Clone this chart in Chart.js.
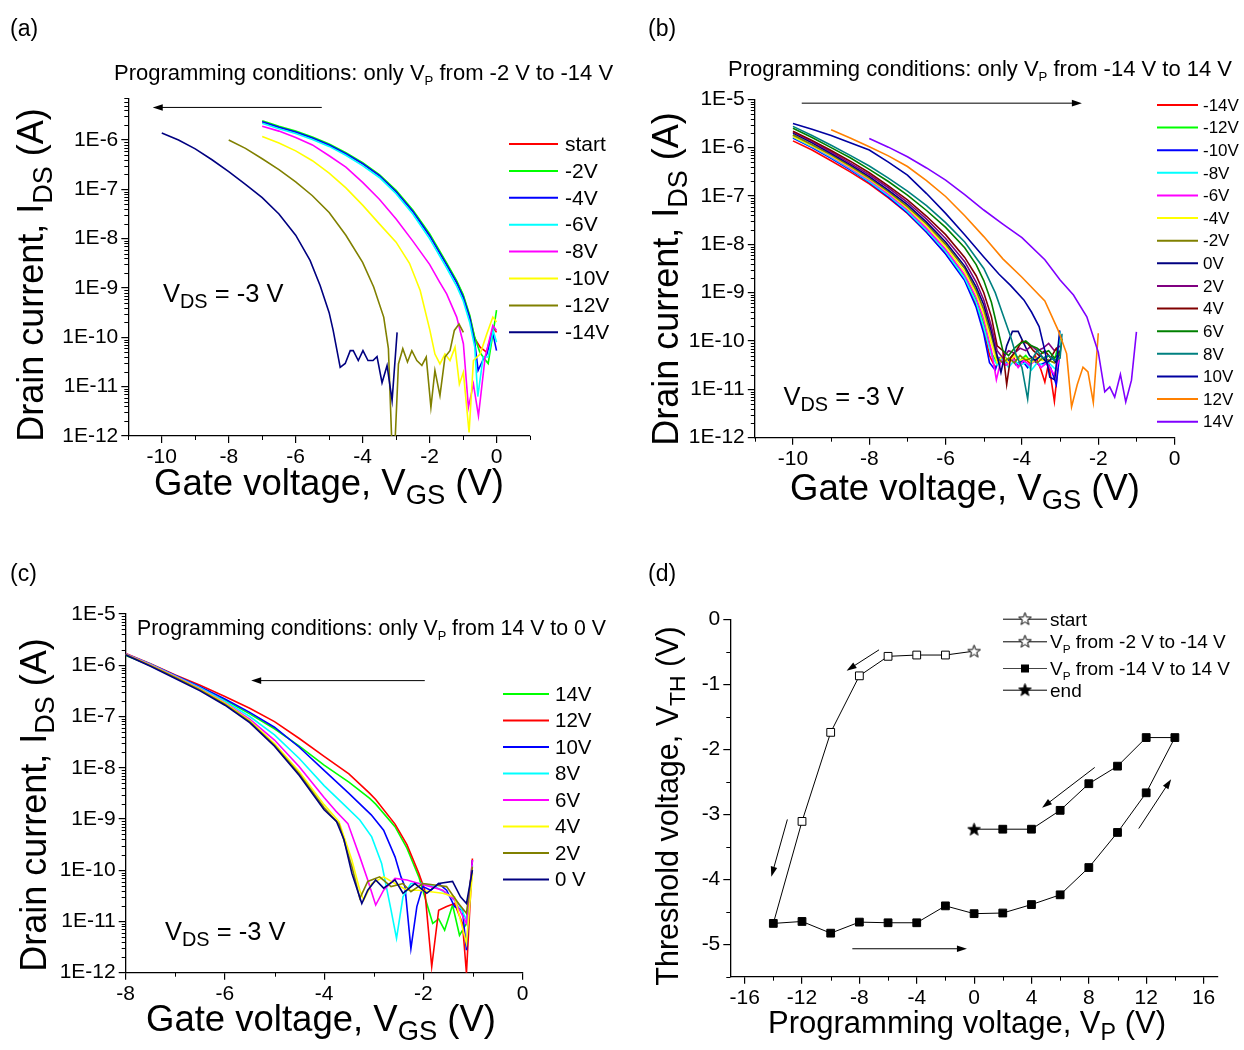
<!DOCTYPE html>
<html>
<head>
<meta charset="utf-8">
<script src="https://cdn.jsdelivr.net/npm/chart.js@4.4.0/dist/chart.umd.min.js"></script>
<style>
  html, body { margin: 0; padding: 0; background: #fff; }
  #wrap { position: relative; width: 1244px; height: 1050px; overflow: hidden; }
  canvas { position: absolute; left: 0; top: 0; }
</style>
</head>
<body>
<div id="wrap">
  <canvas id="ca" width="1244" height="1050"></canvas>
  <canvas id="cb" width="1244" height="1050"></canvas>
  <canvas id="cc" width="1244" height="1050"></canvas>
  <canvas id="cd" width="1244" height="1050"></canvas>
</div>
<script>
const FONT = '"Liberation Sans", Arial, Helvetica, sans-serif';

// curves are [V_GS, log10(I_DS)] pairs

// (a) only V_P from -2 V to -14 V
const aLabels = ['start', '-2V', '-4V', '-6V', '-8V', '-10V', '-12V', '-14V'];
const aColors = ['#ff0000', '#00ff00', '#0000ff', '#00ffff', '#ff00ff', '#ffff00', '#808000', '#000080'];
const aStart = [[-7,-5.63],[-6.5,-5.74],[-6,-5.84],[-5.5,-5.96],[-5,-6.1],[-4.5,-6.28],[-4,-6.48],[-3.5,-6.72],[-3,-7.04],[-2.5,-7.44],[-2,-7.93],[-1.5,-8.5],[-1.2,-8.86],[-1,-9.15],[-0.8,-9.58],[-0.65,-10.02],[-0.49,-10.2],[-0.3,-10.3],[-0.1,-9.8],[0,-9.9]];
const aM2 = [[-7,-5.61],[-6.5,-5.72],[-6,-5.82],[-5.5,-5.94],[-5,-6.08],[-4.5,-6.26],[-4,-6.46],[-3.5,-6.7],[-3,-7.02],[-2.5,-7.42],[-2,-7.9],[-1.5,-8.48],[-1.2,-8.84],[-1,-9.13],[-0.8,-9.55],[-0.65,-10.0],[-0.5,-10.3],[-0.38,-10.42],[-0.25,-10.53],[-0.1,-9.9],[0,-9.45]];
const aM4 = [[-7,-5.63],[-6.5,-5.74],[-6,-5.84],[-5.5,-5.96],[-5,-6.1],[-4.5,-6.28],[-4,-6.48],[-3.5,-6.72],[-3,-7.05],[-2.5,-7.45],[-2,-7.94],[-1.5,-8.52],[-1.2,-8.88],[-1,-9.18],[-0.8,-9.6],[-0.65,-10.1],[-0.55,-10.67],[-0.4,-10.45],[-0.29,-10.34],[-0.11,-9.92],[0,-10.27]];
const aM6 = [[-7,-5.66],[-6.5,-5.77],[-6,-5.87],[-5.5,-5.99],[-5,-6.13],[-4.5,-6.31],[-4,-6.52],[-3.5,-6.76],[-3,-7.09],[-2.5,-7.5],[-2,-8.0],[-1.5,-8.58],[-1.2,-8.95],[-1,-9.25],[-0.8,-9.7],[-0.65,-10.2],[-0.56,-11.2],[-0.4,-10.4],[-0.25,-10.4],[-0.1,-9.86],[0,-10.1]];
const aM8 = [[-7,-5.72],[-6.5,-5.82],[-6,-5.95],[-5.5,-6.1],[-5,-6.32],[-4.5,-6.55],[-4,-6.86],[-3.5,-7.2],[-3,-7.6],[-2.5,-8.05],[-2,-8.52],[-1.7,-8.88],[-1.49,-9.12],[-1.19,-9.59],[-0.99,-10.13],[-0.84,-11.42],[-0.69,-10.95],[-0.54,-11.59],[-0.34,-10.4],[-0.11,-9.76],[0,-9.86]];
const aM10 = [[-7,-5.93],[-6.5,-6.06],[-6,-6.22],[-5.5,-6.42],[-5,-6.67],[-4.5,-6.97],[-4,-7.32],[-3.5,-7.7],[-3,-8.07],[-2.6,-8.5],[-2.28,-9.05],[-1.99,-9.86],[-1.84,-10.34],[-1.69,-10.54],[-1.54,-10.34],[-1.39,-10.47],[-1.24,-10.2],[-1.11,-10.95],[-0.99,-10.71],[-0.82,-11.93],[-0.69,-10.47],[-0.49,-10.34],[-0.29,-9.93],[-0.11,-9.59],[0,-9.69]];
const aM12 = [[-8,-6.0],[-7.5,-6.17],[-7,-6.38],[-6.5,-6.6],[-6,-6.85],[-5.5,-7.13],[-5,-7.47],[-4.5,-7.93],[-4,-8.48],[-3.67,-8.98],[-3.37,-9.59],[-3.23,-10.23],[-3.13,-12.1],[-3.03,-12.1],[-2.93,-10.54],[-2.8,-10.23],[-2.66,-10.5],[-2.53,-10.27],[-2.38,-10.47],[-2.23,-10.57],[-2.1,-10.4],[-1.96,-11.42],[-1.84,-10.67],[-1.69,-11.18],[-1.54,-10.4],[-1.39,-10.27],[-1.26,-9.86],[-1.12,-9.73],[-0.99,-9.9]];
const aM14 = [[-10,-5.86],[-9.5,-6.0],[-9,-6.18],[-8.5,-6.4],[-8,-6.64],[-7.5,-6.9],[-7,-7.17],[-6.5,-7.5],[-6,-7.93],[-5.57,-8.44],[-5.27,-8.95],[-5,-9.5],[-4.88,-9.86],[-4.67,-10.61],[-4.52,-10.53],[-4.37,-10.27],[-4.28,-10.27],[-4.13,-10.47],[-3.99,-10.27],[-3.84,-10.47],[-3.69,-10.47],[-3.57,-10.39],[-3.42,-10.92],[-3.27,-10.57],[-3.12,-11.28],[-2.97,-9.9]];
const aCurves = [aStart, aM2, aM4, aM6, aM8, aM10, aM12, aM14];

// (b) only V_P from -14 V to 14 V
const bLabels = ['-14V', '-12V', '-10V', '-8V', '-6V', '-4V', '-2V', '0V', '2V', '4V', '6V', '8V', '10V', '12V', '14V'];
const bColors = ['#ff0000', '#00ff00', '#0000ff', '#00ffff', '#ff00ff', '#ffff00', '#808000', '#000080', '#800080', '#800000', '#008000', '#008080', '#0000a0', '#ff8000', '#8000ff'];
const bM14 = [[-10,-5.86],[-9.5,-6.05],[-9,-6.27],[-8.5,-6.5],[-8,-6.75],[-7.5,-7.04],[-7,-7.36],[-6.5,-7.75],[-6,-8.19],[-5.5,-8.72],[-5.2,-9.25],[-5,-9.75],[-4.85,-10.3],[-4.7,-10.55],[-4.55,-10.35],[-4.4,-10.45],[-4.25,-10.3],[-4.1,-10.5],[-3.95,-10.35],[-3.8,-10.45],[-3.65,-10.3],[-3.5,-10.6],[-3.4,-10.85],[-3.3,-10.45],[-3.15,-11.25],[-3.05,-10.5]];
const bM12 = [[-10,-5.74],[-9.5,-5.95],[-9,-6.18],[-8.5,-6.42],[-8,-6.68],[-7.5,-6.97],[-7,-7.3],[-6.5,-7.68],[-6,-8.12],[-5.5,-8.65],[-5.2,-9.15],[-5,-9.65],[-4.8,-10.25],[-4.65,-10.45],[-4.5,-10.3],[-4.35,-10.4],[-4.2,-10.25],[-4.05,-10.4],[-3.9,-10.3],[-3.75,-10.45],[-3.6,-10.35],[-3.45,-10.4],[-3.3,-10.3],[-3.15,-10.4],[-3.0,-9.95]];
const bM10 = [[-10,-5.80],[-9.5,-6.0],[-9,-6.22],[-8.5,-6.46],[-8,-6.72],[-7.5,-7.02],[-7,-7.35],[-6.5,-7.75],[-6,-8.2],[-5.5,-8.75],[-5.2,-9.3],[-5,-9.85],[-4.85,-10.45],[-4.7,-10.6],[-4.6,-10.35],[-4.45,-10.5],[-4.3,-10.35],[-4.15,-10.5],[-4,-10.4],[-3.85,-10.55],[-3.7,-10.4],[-3.55,-10.5],[-3.4,-10.45],[-3.25,-10.55],[-3.1,-10.9],[-3.0,-10.2]];
const bM8 = [[-10,-5.78],[-9.5,-5.98],[-9,-6.2],[-8.5,-6.44],[-8,-6.7],[-7.5,-6.99],[-7,-7.32],[-6.5,-7.71],[-6,-8.15],[-5.5,-8.7],[-5.2,-9.2],[-5,-9.72],[-4.8,-10.3],[-4.65,-10.5],[-4.5,-10.35],[-4.35,-10.55],[-4.2,-10.4],[-4.05,-10.5],[-3.9,-10.45],[-3.75,-10.6],[-3.6,-10.45],[-3.45,-10.5],[-3.3,-10.45],[-3.1,-10.6],[-3.0,-9.8]];
const bM6 = [[-10,-5.76],[-9.5,-5.96],[-9,-6.18],[-8.5,-6.42],[-8,-6.67],[-7.5,-6.96],[-7,-7.28],[-6.5,-7.67],[-6,-8.1],[-5.5,-8.63],[-5.2,-9.1],[-5,-9.55],[-4.8,-10.2],[-4.67,-10.8],[-4.55,-10.4],[-4.4,-10.5],[-4.25,-10.35],[-4.1,-10.55],[-3.95,-10.4],[-3.8,-10.5],[-3.65,-10.4],[-3.5,-10.55],[-3.35,-10.45],[-3.15,-10.7],[-3.0,-10.3]];
const bM4 = [[-10,-5.77],[-9.5,-5.96],[-9,-6.17],[-8.5,-6.4],[-8,-6.65],[-7.5,-6.93],[-7,-7.25],[-6.5,-7.62],[-6,-8.05],[-5.5,-8.57],[-5.2,-9.02],[-5,-9.45],[-4.8,-10.05],[-4.65,-10.45],[-4.5,-10.3],[-4.35,-10.45],[-4.2,-10.3],[-4.05,-10.4],[-3.9,-10.35],[-3.75,-10.45],[-3.6,-10.35],[-3.45,-10.4],[-3.3,-10.4],[-3.15,-10.45],[-3.0,-10.3]];
const bM2 = [[-10,-5.74],[-9.5,-5.94],[-9,-6.15],[-8.5,-6.38],[-8,-6.63],[-7.5,-6.91],[-7,-7.22],[-6.5,-7.58],[-6,-8.0],[-5.5,-8.5],[-5.2,-8.95],[-5,-9.35],[-4.8,-9.9],[-4.65,-10.35],[-4.5,-10.45],[-4.35,-10.35],[-4.2,-10.45],[-4.05,-10.3],[-3.9,-10.4],[-3.75,-10.35],[-3.6,-10.45],[-3.45,-10.35],[-3.3,-10.4],[-3.15,-10.45],[-3.0,-10.35]];
const b0 = [[-10,-5.70],[-9.5,-5.9],[-9,-6.12],[-8.5,-6.35],[-8,-6.6],[-7.5,-6.88],[-7,-7.18],[-6.5,-7.54],[-6,-7.95],[-5.5,-8.45],[-5.2,-8.88],[-5,-9.25],[-4.8,-9.8],[-4.65,-10.3],[-4.55,-10.65],[-4.4,-10.1],[-4.25,-9.8],[-4.1,-9.8],[-3.95,-10.05],[-3.8,-10.3],[-3.65,-10.4],[-3.5,-10.3],[-3.35,-10.45],[-3.2,-10.35],[-3.1,-10.45],[-3.0,-10.2]];
const b2 = [[-10,-5.67],[-9.5,-5.87],[-9,-6.09],[-8.5,-6.32],[-8,-6.56],[-7.5,-6.83],[-7,-7.13],[-6.5,-7.48],[-6,-7.88],[-5.5,-8.36],[-5.2,-8.78],[-5,-9.15],[-4.8,-9.7],[-4.65,-10.2],[-4.5,-10.35],[-4.35,-10.2],[-4.2,-10.25],[-4.05,-10.15],[-3.9,-10.2],[-3.75,-10.1],[-3.6,-10.2],[-3.45,-10.15],[-3.3,-10.05],[-3.15,-10.2],[-3.0,-10.1]];
const b4 = [[-10,-5.66],[-9.5,-5.85],[-9,-6.06],[-8.5,-6.28],[-8,-6.52],[-7.5,-6.79],[-7,-7.08],[-6.5,-7.42],[-6,-7.8],[-5.5,-8.27],[-5.2,-8.65],[-5,-9.0],[-4.8,-9.5],[-4.65,-10.1],[-4.5,-10.2],[-4.4,-10.9],[-4.3,-10.35],[-4.15,-10.2],[-4,-10.0],[-3.85,-10.05],[-3.7,-10.2],[-3.55,-10.3],[-3.4,-10.2],[-3.25,-10.35],[-3.1,-10.15],[-3.0,-10.3]];
const b6 = [[-10,-5.60],[-9.5,-5.79],[-9,-6.0],[-8.5,-6.21],[-8,-6.45],[-7.5,-6.7],[-7,-6.98],[-6.5,-7.3],[-6,-7.65],[-5.5,-8.07],[-5.2,-8.42],[-5,-8.75],[-4.8,-9.2],[-4.65,-9.7],[-4.5,-10.2],[-4.35,-10.3],[-4.2,-10.15],[-4.05,-10.05],[-3.9,-10.0],[-3.75,-10.1],[-3.6,-10.15],[-3.45,-10.25],[-3.3,-10.2],[-3.15,-10.35],[-3.0,-10.25],[-2.95,-9.95]];
const b8 = [[-10,-5.56],[-9.5,-5.75],[-9,-5.95],[-8.5,-6.16],[-8,-6.38],[-7.5,-6.63],[-7,-6.9],[-6.5,-7.2],[-6,-7.55],[-5.5,-7.95],[-5,-8.5],[-4.7,-9.0],[-4.5,-9.45],[-4.3,-9.9],[-4.15,-10.3],[-4.0,-10.55],[-3.85,-11.2],[-3.75,-10.4],[-3.6,-10.2],[-3.45,-10.35],[-3.3,-10.3],[-3.15,-10.4],[-3.0,-10.35],[-2.95,-9.85]];
const b10 = [[-10,-5.50],[-9.5,-5.62],[-9,-5.75],[-8.5,-5.9],[-8,-6.05],[-7.5,-6.3],[-7,-6.57],[-6.5,-6.95],[-6,-7.36],[-5.5,-7.8],[-5,-8.26],[-4.6,-8.62],[-4.3,-8.85],[-3.95,-9.15],[-3.75,-9.4],[-3.55,-9.7],[-3.4,-10.2],[-3.27,-10.75],[-3.14,-10.8],[-3.01,-9.78]];
const b12 = [[-9,-5.63],[-8.5,-5.8],[-8,-5.98],[-7.5,-6.17],[-7,-6.39],[-6.5,-6.68],[-6,-7.01],[-5.5,-7.41],[-5,-7.84],[-4.5,-8.3],[-4,-8.68],[-3.4,-9.17],[-3.05,-9.78],[-2.83,-10.26],[-2.7,-11.36],[-2.55,-10.9],[-2.4,-10.54],[-2.27,-10.64],[-2.13,-11.27],[-2.0,-9.84]];
const b14 = [[-8,-5.81],[-7.5,-5.99],[-7,-6.19],[-6.5,-6.42],[-6,-6.67],[-5.5,-6.97],[-5,-7.29],[-4.5,-7.58],[-4,-7.86],[-3.4,-8.32],[-3,-8.74],[-2.65,-9.05],[-2.3,-9.5],[-2.0,-10.23],[-1.83,-11.05],[-1.7,-10.95],[-1.57,-11.16],[-1.42,-10.69],[-1.28,-11.26],[-1.13,-10.81],[-1.0,-9.81]];
const bCurves = [bM14, bM12, bM10, bM8, bM6, bM4, bM2, b0, b2, b4, b6, b8, b10, b12, b14];

// (c) only V_P from 14 V to 0 V
const cLabels = ['14V', '12V', '10V', '8V', '6V', '4V', '2V', '0 V'];
const cColors = ['#00ff00', '#ff0000', '#0000ff', '#00ffff', '#ff00ff', '#ffff00', '#808000', '#000080'];
const c14 = [[-8,-5.81],[-7.5,-6.0],[-7,-6.21],[-6.5,-6.43],[-6,-6.68],[-5.5,-6.95],[-5,-7.24],[-4.5,-7.58],[-4,-7.95],[-3.5,-8.28],[-3.08,-8.6],[-2.96,-8.71],[-2.57,-9.15],[-2.33,-9.57],[-2.09,-10.13],[-1.93,-10.65],[-1.81,-11.04],[-1.69,-10.95],[-1.57,-11.17],[-1.41,-10.68],[-1.27,-11.27],[-1.13,-11.04],[-1.01,-9.83]];
const c12 = [[-8,-5.77],[-7.5,-5.97],[-7,-6.19],[-6.5,-6.39],[-6,-6.61],[-5.5,-6.84],[-5,-7.1],[-4.5,-7.43],[-4,-7.78],[-3.5,-8.12],[-3.08,-8.5],[-2.96,-8.62],[-2.57,-9.1],[-2.33,-9.5],[-2.09,-10.06],[-1.97,-10.39],[-1.83,-11.88],[-1.69,-10.78],[-1.53,-10.71],[-1.37,-10.65],[-1.21,-11.04],[-1.13,-12.01],[-1.01,-9.77]];
const c10 = [[-8,-5.78],[-7.5,-5.98],[-7,-6.2],[-6.5,-6.42],[-6,-6.66],[-5.5,-6.92],[-5,-7.21],[-4.5,-7.6],[-4,-8.05],[-3.5,-8.5],[-3.05,-8.92],[-2.8,-9.22],[-2.57,-9.74],[-2.45,-10.13],[-2.37,-10.32],[-2.25,-11.53],[-2.13,-10.71],[-2.01,-10.32],[-1.85,-10.39],[-1.69,-10.26],[-1.53,-10.39],[-1.37,-10.71],[-1.21,-10.78],[-1.13,-11.56],[-1.01,-9.8]];
const c8 = [[-8,-5.78],[-7.5,-5.98],[-7,-6.21],[-6.5,-6.44],[-6,-6.7],[-5.5,-7.0],[-5,-7.36],[-4.5,-7.82],[-4,-8.35],[-3.6,-8.72],[-3.28,-9.02],[-3.04,-9.35],[-2.84,-9.87],[-2.65,-10.78],[-2.54,-11.33],[-2.41,-10.52],[-2.25,-10.26],[-2.01,-10.26],[-1.77,-10.32],[-1.53,-10.45],[-1.29,-10.65],[-1.13,-10.97],[-1.01,-9.9]];
const c6 = [[-8,-5.78],[-7.5,-5.99],[-7,-6.22],[-6.5,-6.46],[-6,-6.73],[-5.5,-7.05],[-5,-7.46],[-4.5,-7.98],[-4,-8.58],[-3.76,-8.85],[-3.52,-9.09],[-3.28,-9.74],[-3.12,-10.19],[-2.96,-10.68],[-2.8,-10.39],[-2.57,-10.16],[-2.33,-10.19],[-2.09,-10.26],[-1.85,-10.32],[-1.61,-10.39],[-1.37,-10.58],[-1.13,-11.04],[-1.01,-9.8]];
const c4 = [[-8,-5.79],[-7.5,-6.0],[-7,-6.23],[-6.5,-6.47],[-6,-6.74],[-5.5,-7.08],[-5,-7.53],[-4.5,-8.08],[-4,-8.72],[-3.7,-9.05],[-3.44,-9.8],[-3.28,-10.39],[-3.2,-10.58],[-3.04,-10.26],[-2.8,-10.13],[-2.57,-10.26],[-2.33,-10.39],[-2.09,-10.39],[-1.85,-10.42],[-1.61,-10.45],[-1.37,-10.52],[-1.13,-11.43],[-1.01,-10.06]];
const c2 = [[-8,-5.79],[-7.5,-6.01],[-7,-6.24],[-6.5,-6.48],[-6,-6.76],[-5.5,-7.1],[-5,-7.56],[-4.5,-8.12],[-4,-8.78],[-3.7,-9.1],[-3.44,-9.93],[-3.28,-10.55],[-3.12,-10.22],[-2.88,-10.13],[-2.65,-10.32],[-2.41,-10.26],[-2.25,-10.42],[-2.01,-10.26],[-1.77,-10.29],[-1.53,-10.32],[-1.29,-10.65],[-1.13,-10.84],[-1.01,-9.93]];
const c0 = [[-8,-5.8],[-7.5,-6.02],[-7,-6.26],[-6.5,-6.5],[-6,-6.78],[-5.5,-7.12],[-5,-7.58],[-4.5,-8.15],[-4,-8.82],[-3.75,-9.05],[-3.6,-9.4],[-3.44,-10.06],[-3.24,-10.65],[-3.12,-10.39],[-2.96,-10.19],[-2.8,-10.35],[-2.57,-10.19],[-2.41,-10.45],[-2.17,-10.26],[-1.93,-10.45],[-1.69,-10.26],[-1.41,-10.22],[-1.25,-10.52],[-1.13,-10.65],[-1.01,-10.0]];
const cCurves = [c14, c12, c10, c8, c6, c4, c2, c0];

// (d) threshold voltage vs programming voltage
const vpStart = [0], vthStart = [-0.49];
const vpNeg = [0, -2, -4, -6, -8, -10, -12, -14];
const vthNeg = [-0.49, -0.55, -0.55, -0.57, -0.87, -1.74, -3.11, -4.68];
const vpLoop = [-14, -12, -10, -8, -6, -4, -2, 0, 2, 4, 6, 8, 10, 12, 14, 12, 10, 8, 6, 4, 2, 0];
const vthLoop = [-4.68, -4.65, -4.83, -4.66, -4.67, -4.67, -4.41, -4.53, -4.52, -4.39, -4.24, -3.82, -3.28, -2.67, -1.82, -1.82, -2.26, -2.53, -2.94, -3.23, -3.23, -3.23];
const vpEnd = [0], vthEnd = [-3.23];

// ticks
const decades5 = [1e-12, 1e-11, 1e-10, 1e-9, 1e-8, 1e-7, 1e-6, 1e-5];
const decades6 = [1e-12, 1e-11, 1e-10, 1e-9, 1e-8, 1e-7, 1e-6];
const aXTicks = [-10, -8, -6, -4, -2, 0], aXMinor = [-11, -9, -7, -5, -3, -1, 1];
const bXTicks = [-10, -8, -6, -4, -2, 0], bXMinor = [-11, -9, -7, -5, -3, -1];
const cXTicks = [-8, -6, -4, -2, 0], cXMinor = [-7, -5, -3, -1];
const dXTicks = [-16, -12, -8, -4, 0, 4, 8, 12, 16], dXMinor = [-14, -10, -6, -2, 2, 6, 10, 14];
const dYTicks = [-5, -4, -3, -2, -1, 0], dYMinor = [-5.5, -4.5, -3.5, -2.5, -1.5, -0.5];

function logMinor(decades, max) {
  const out = [];
  decades.forEach(d => { for (let k = 2; k <= 9; k++) if (k * d <= max) out.push(k * d); });
  return out;
}

function drawRich(ctx, parts, x, y, size, align, rot, subRatio) {
  const sr = subRatio || 0.72;
  ctx.save();
  const seg = parts.map(p => {
    const sub = Array.isArray(p);
    const t = sub ? p[0] : p;
    const fs = sub ? size * sr : size;
    ctx.font = fs + 'px ' + FONT;
    return { t, sub, fs, w: ctx.measureText(t).width };
  });
  const total = seg.reduce((s, g) => s + g.w, 0);
  ctx.translate(x, y);
  if (rot) ctx.rotate(-Math.PI / 2);
  let cx = align === 'center' ? -total / 2 : 0;
  ctx.fillStyle = '#000';
  ctx.textAlign = 'left';
  ctx.textBaseline = 'alphabetic';
  seg.forEach(g => {
    ctx.font = g.fs + 'px ' + FONT;
    ctx.fillText(g.t, cx, g.sub ? size * 0.24 : 0);
    cx += g.w;
  });
  ctx.restore();
}

function arrow(ctx, x1, y1, x2, y2) {
  const a = Math.atan2(y2 - y1, x2 - x1), L = 10, W = 3.3;
  const c = Math.cos(a), s = Math.sin(a);
  ctx.save();
  ctx.strokeStyle = '#000';
  ctx.fillStyle = '#000';
  ctx.lineWidth = 1;
  ctx.beginPath();
  ctx.moveTo(x1, y1);
  ctx.lineTo(x2 - L * 0.7 * c, y2 - L * 0.7 * s);
  ctx.stroke();
  ctx.beginPath();
  ctx.moveTo(x2, y2);
  ctx.lineTo(x2 - L * c + W * s, y2 - L * s - W * c);
  ctx.lineTo(x2 - L * c - W * s, y2 - L * s + W * c);
  ctx.closePath();
  ctx.fill();
  ctx.restore();
}

// arrow in data units, y given as log10 for the log panels
function dataArrow(chart, p, log) {
  const xs = chart.scales.x, ys = chart.scales.y;
  const yv = v => log ? Math.pow(10, v) : v;
  arrow(chart.ctx, xs.getPixelForValue(p[0]), ys.getPixelForValue(yv(p[1])),
        xs.getPixelForValue(p[2]), ys.getPixelForValue(yv(p[3])));
}

function legend(ctx, labels, colors, x1, x2, tx, y0, dy, size) {
  ctx.save();
  ctx.font = size + 'px ' + FONT;
  ctx.textBaseline = 'middle';
  ctx.fillStyle = '#000';
  labels.forEach((l, i) => {
    const y = y0 + dy * i;
    ctx.strokeStyle = colors[i];
    ctx.lineWidth = 2;
    ctx.beginPath();
    ctx.moveTo(x1, y);
    ctx.lineTo(x2, y);
    ctx.stroke();
    ctx.fillText(l, tx, y + 1);
  });
  ctx.restore();
}

function panelLabel(ctx, t, x, y) {
  ctx.save();
  ctx.font = '23px ' + FONT;
  ctx.fillStyle = '#000';
  ctx.fillText(t, x, y);
  ctx.restore();
}

function minorTicks(chart, o) {
  const ctx = chart.ctx, xs = chart.scales.x, ys = chart.scales.y;
  const ca = chart.chartArea;
  ctx.save();
  ctx.strokeStyle = '#000';
  ctx.lineWidth = 1;
  ctx.beginPath();
  o.xMinor.forEach(v => {
    const px = Math.round(xs.getPixelForValue(v)) + 0.5;
    ctx.moveTo(px, ca.bottom);
    ctx.lineTo(px, ca.bottom + 4);
  });
  o.yMinor.forEach(v => {
    const py = Math.round(ys.getPixelForValue(v)) + 0.5;
    ctx.moveTo(ca.left, py);
    ctx.lineTo(ca.left - 4, py);
  });
  ctx.stroke();
  ctx.restore();
}

function buildChart(id, o) {
  const W = 1244, H = 1050, YW = 70, XH = 40;
  const L = o.area[0], T = o.area[1], R = o.area[2], B = o.area[3];
  const tickFont = { family: FONT, size: 21 };
  const grid = { drawOnChartArea: false, color: '#000', lineWidth: 1.2, tickLength: 7 };
  const border = { color: '#000', width: 1.3 };
  return new Chart(document.getElementById(id), {
    type: 'line',
    data: { datasets: o.datasets },
    options: {
      responsive: false,
      animation: false,
      events: [],
      layout: { padding: { left: L - YW, top: T, right: W - R, bottom: H - B - XH } },
      plugins: { legend: { display: false }, tooltip: { enabled: false } },
      elements: { line: { tension: 0 } },
      scales: {
        x: {
          type: 'linear', min: o.x[0], max: o.x[1],
          afterFit: s => { s.height = XH; },
          afterBuildTicks: s => { s.ticks = o.xTicks.map(v => ({ value: v })); },
          ticks: { color: '#000', font: tickFont, padding: 2, maxRotation: 0, autoSkip: false, callback: v => String(v) },
          grid: grid, border: border
        },
        y: {
          type: o.log ? 'logarithmic' : 'linear', min: o.y[0], max: o.y[1],
          afterFit: s => { s.width = YW; },
          afterBuildTicks: s => { s.ticks = o.yTicks.map(v => ({ value: v })); },
          ticks: { color: '#000', font: tickFont, padding: 3, autoSkip: false, callback: o.yFmt },
          grid: grid, border: border
        }
      }
    },
    plugins: [{
      id: 'decor',
      afterDraw(chart) {
        minorTicks(chart, o);
        o.decor(chart.ctx, chart);
      }
    }]
  });
}

function curveSets(curves, labels, colors) {
  return curves.map((c, i) => ({
    label: labels[i],
    data: c.map(p => ({ x: p[0], y: Math.pow(10, p[1]) })),
    borderColor: colors[i],
    borderWidth: 1.6,
    pointRadius: 0,
    fill: false,
    order: curves.length - i
  }));
}

const sciFmt = v => '1E' + Math.round(Math.log10(v));
const idTitle = ['Drain current, I', ['DS'], ' (A)'];
const vgsTitle = ['Gate voltage, V', ['GS'], ' (V)'];
const vdsNote = ['V', ['DS'], ' = -3 V'];

// (a)
buildChart('ca', {
  area: [128.3, 98.3, 530, 436],
  x: [-11, 1], y: [1e-12, 7e-6], log: true,
  xTicks: aXTicks, xMinor: aXMinor, yTicks: decades6, yMinor: logMinor(decades6, 7e-6),
  yFmt: sciFmt,
  datasets: curveSets(aCurves, aLabels, aColors),
  decor(ctx, chart) {
    panelLabel(ctx, '(a)', 10, 36);
    drawRich(ctx, ['Programming conditions: only V', ['P'], ' from -2 V to -14 V'], 114, 80, 22, 'left', false, 0.6);
    drawRich(ctx, vdsNote, 163, 302, 25.5, 'left', false, 0.78);
    drawRich(ctx, idTitle, 43, 275, 36, 'center', true, 0.75);
    drawRich(ctx, vgsTitle, 329, 495, 36.5, 'center', false, 0.75);
    legend(ctx, aLabels, aColors, 509, 558, 565, 144, 26.9, 21);
    dataArrow(chart, [-5.22, -5.34, -10.27, -5.34], true);
  }
});

// (b)
buildChart('cb', {
  area: [754.8, 99.3, 1174.6, 437.7],
  x: [-11, 0], y: [1e-12, 1e-5], log: true,
  xTicks: bXTicks, xMinor: bXMinor, yTicks: decades5, yMinor: logMinor(decades5, 1e-5),
  yFmt: sciFmt,
  datasets: curveSets(bCurves, bLabels, bColors),
  decor(ctx, chart) {
    panelLabel(ctx, '(b)', 648, 36);
    drawRich(ctx, ['Programming conditions: only V', ['P'], ' from -14 V to 14 V'], 728, 76, 22, 'left', false, 0.6);
    drawRich(ctx, vdsNote, 783.5, 405, 25.5, 'left', false, 0.78);
    drawRich(ctx, idTitle, 678, 279, 36, 'center', true, 0.75);
    drawRich(ctx, vgsTitle, 965, 500, 36.5, 'center', false, 0.75);
    legend(ctx, bLabels, bColors, 1157, 1198, 1203, 105, 22.62, 17);
    dataArrow(chart, [-9.77, -5.08, -2.43, -5.08], true);
  }
});

// (c)
buildChart('cc', {
  area: [125.7, 614, 522.5, 972.7],
  x: [-8, 0], y: [1e-12, 1e-5], log: true,
  xTicks: cXTicks, xMinor: cXMinor, yTicks: decades5, yMinor: logMinor(decades5, 1e-5),
  yFmt: sciFmt,
  datasets: curveSets(cCurves, cLabels, cColors),
  decor(ctx, chart) {
    panelLabel(ctx, '(c)', 10, 581);
    drawRich(ctx, ['Programming conditions: only V', ['P'], ' from 14 V to 0 V'], 137, 635, 21.3, 'left', false, 0.6);
    drawRich(ctx, vdsNote, 165, 940, 25.5, 'left', false, 0.78);
    drawRich(ctx, idTitle, 45.5, 805, 36, 'center', true, 0.75);
    drawRich(ctx, vgsTitle, 321, 1031, 36.5, 'center', false, 0.75);
    legend(ctx, cLabels, cColors, 503, 549, 555, 694, 26.5, 20.5);
    dataArrow(chart, [-1.97, -6.30, -5.47, -6.30], true);
  }
});

// (d)
function starImg(fill) {
  const c = document.createElement('canvas');
  c.width = 15; c.height = 15;
  const g = c.getContext('2d');
  g.beginPath();
  for (let i = 0; i < 10; i++) {
    const r = i % 2 ? 2.7 : 6.6;
    const a = -Math.PI / 2 + i * Math.PI / 5;
    g.lineTo(7.5 + r * Math.cos(a), 8 + r * Math.sin(a));
  }
  g.closePath();
  g.fillStyle = fill;
  g.fill();
  g.strokeStyle = '#000';
  g.lineWidth = 1;
  g.stroke();
  return c;
}
const openStar = starImg('#fff');
const fullStar = starImg('#000');
const pts = (xs, ys) => xs.map((v, i) => ({ x: v, y: ys[i] }));

buildChart('cd', {
  area: [730.3, 619.3, 1217.9, 976.7],
  x: [-17, 17], y: [-5.5, 0], log: false,
  xTicks: dXTicks, xMinor: dXMinor, yTicks: dYTicks, yMinor: dYMinor,
  yFmt: v => String(v),
  datasets: [
    { label: 'V_P from -2 V to -14 V', data: pts(vpNeg, vthNeg), borderColor: '#000', borderWidth: 1,
      pointStyle: 'rect', pointRadius: vpNeg.map((v, i) => (i === 0 || i === vpNeg.length - 1) ? 0 : 5.5),
      pointBackgroundColor: '#fff', pointBorderColor: '#000', pointBorderWidth: 1, order: 4 },
    { label: 'V_P from -14 V to 14 V', data: pts(vpLoop, vthLoop), borderColor: '#000', borderWidth: 1,
      pointStyle: 'rect', pointRadius: vpLoop.map((v, i) => i === vpLoop.length - 1 ? 0 : 5.5),
      pointBackgroundColor: '#000', pointBorderColor: '#000', pointBorderWidth: 1, order: 3 },
    { label: 'start', data: pts(vpStart, vthStart), showLine: false, pointStyle: openStar, pointRadius: 6, order: 2 },
    { label: 'end', data: pts(vpEnd, vthEnd), showLine: false, pointStyle: fullStar, pointRadius: 6, order: 1 }
  ],
  decor(ctx, chart) {
    panelLabel(ctx, '(d)', 648, 581);
    drawRich(ctx, ['Threshold voltage, V', ['TH'], ' (V)'], 678, 806, 30.5, 'center', true, 0.75);
    drawRich(ctx, ['Programming voltage, V', ['P'], ' (V)'], 967, 1033, 31, 'center', false, 0.75);
    // legend
    const rows = [625.7, 648.3, 675, 696.7];
    const sym = ['ostar', 'ostar', 'square', 'fstar'];
    const txt = [['start'], ['V', ['P'], ' from -2 V to -14 V'], ['V', ['P'], ' from -14 V to 14 V'], ['end']];
    rows.forEach((b, i) => {
      const cy = b - 6.5;
      ctx.save();
      ctx.strokeStyle = i === 2 ? '#444' : '#000';
      ctx.lineWidth = 1;
      ctx.beginPath();
      ctx.moveTo(1003, cy);
      ctx.lineTo(1047, cy);
      ctx.stroke();
      if (sym[i] === 'square') {
        ctx.fillStyle = '#000';
        ctx.fillRect(1021, cy - 4, 8, 8);
      } else {
        ctx.drawImage(sym[i] === 'ostar' ? openStar : fullStar, 1025 - 7.5, cy - 8);
      }
      ctx.restore();
      drawRich(ctx, txt[i], 1050, b, 19, 'left', false, 0.62);
    });
    dataArrow(chart, [-6.63, -0.47, -8.89, -0.79], false);
    dataArrow(chart, [-13.02, -3.08, -14.14, -3.96], false);
    dataArrow(chart, [-8.49, -5.07, -0.5, -5.07], false);
    dataArrow(chart, [11.48, -3.22, 13.74, -2.46], false);
    dataArrow(chart, [8.41, -2.28, 4.74, -2.90], false);
  }
});
</script>
</body>
</html>
